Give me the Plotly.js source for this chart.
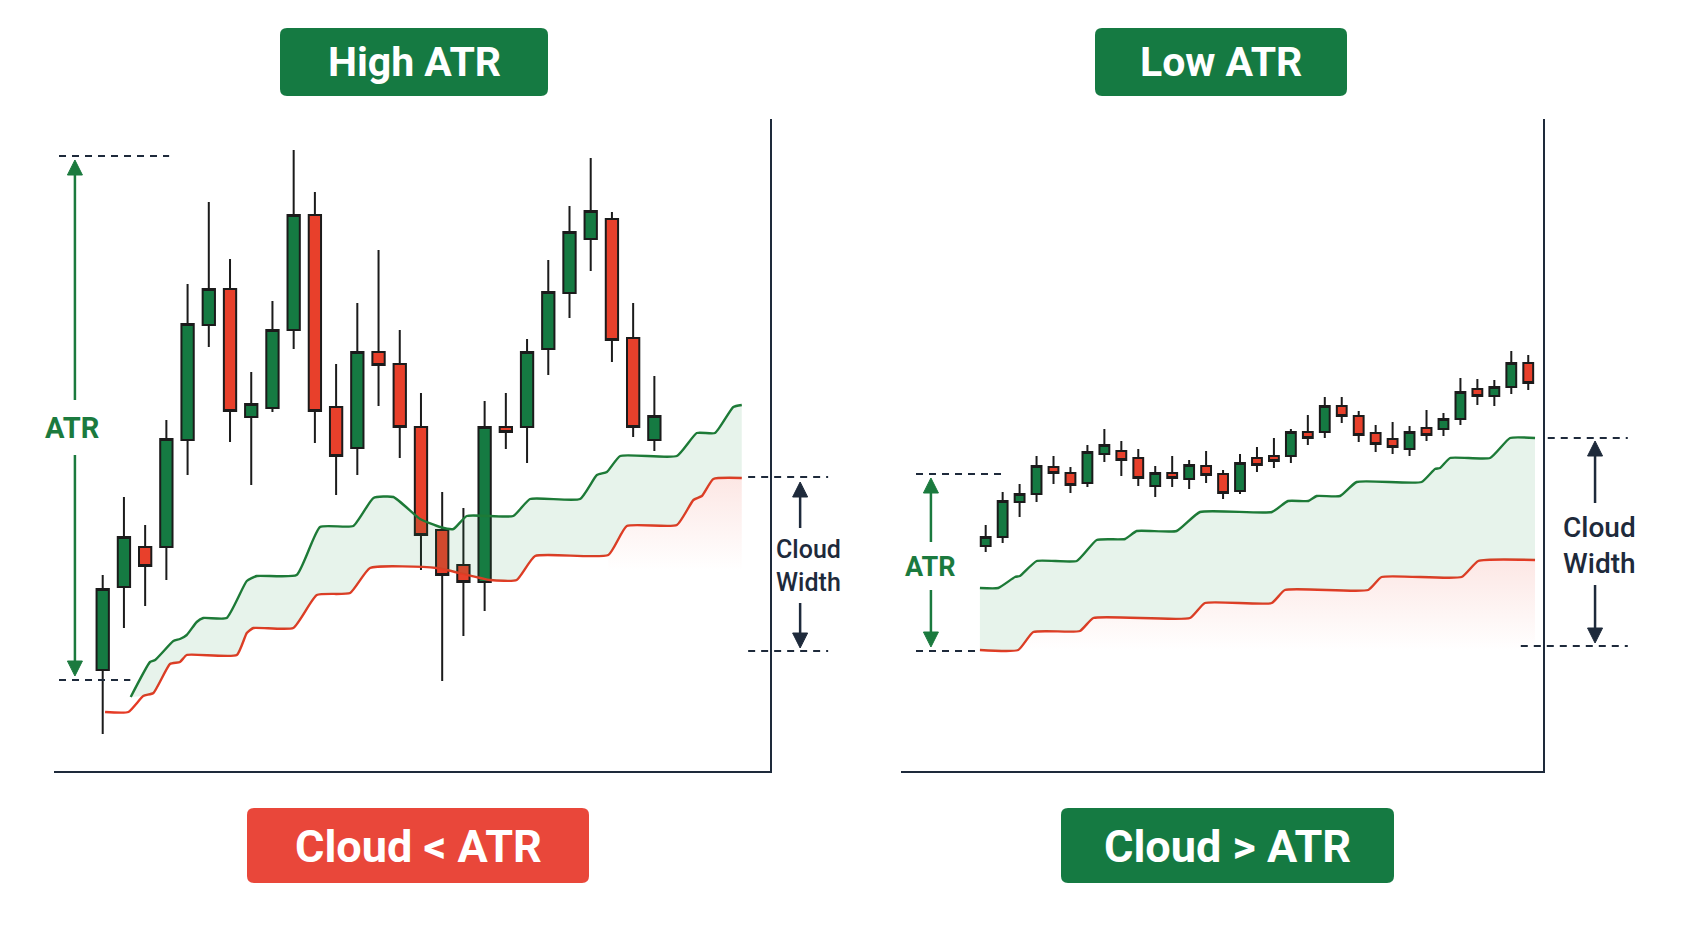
<!DOCTYPE html>
<html><head><meta charset="utf-8">
<script src="https://cdn.plot.ly/plotly-3.0.1.min.js"></script>
<style>html,body{margin:0;padding:0;background:#fff;}#chart{width:1692px;height:930px;}</style>
</head><body><div id="chart"></div>
<script>
// ---------------- DATA: left panel (High ATR) ----------------
const leftIdx   = [1,2,3,4,5,6,7,8,9,10,11,12,13,14,15,16,17,18,19,20,21,22,23,24,25,26,27];
const leftOpen  = [110.1,118.4,122.4,122.4,133.1,144.6,148.2,135.4,136.3,144.1,155.6,136.4,132.3,141.9,140.7,134.4,124.1,120.6,118.9,134.4,134.4,142.2,147.8,153.2,155.2,143.3,133.1];
const leftHigh  = [119.6,127.4,124.6,135.1,148.7,156.9,151.2,139.9,147.0,162.1,157.9,140.7,146.8,152.1,144.1,137.8,127.9,126.3,137.0,137.8,143.2,151.1,156.5,161.3,155.9,146.8,139.5];
const leftLow   = [103.7,114.3,116.5,119.1,129.6,142.4,132.9,128.6,135.9,142.2,132.8,127.6,129.6,136.5,131.3,120.1,109.0,113.5,116.0,132.2,130.8,139.6,145.3,150.0,140.9,133.4,132.0];
const leftClose = [118.2,123.4,120.5,133.2,144.7,148.2,136.0,136.7,144.1,155.6,136.0,131.5,141.9,140.6,134.4,123.6,119.6,118.9,134.4,133.9,141.9,147.9,153.9,156.0,143.1,134.4,135.5];
// cloud lines (upper = green, lower = red)
const leftUpperX = [2.32,3.23,3.47,4.33,4.64,4.96,5.43,5.74,6.84,7.79,8.26,10.14,11.24,12.81,13.76,14.70,15.96,16.90,17.53,18.16,20.35,21.14,23.50,24.29,24.76,25.39,28.06,29.00,29.86,30.72,31.12];
const leftUpper  = [107.4,110.9,111.1,113.0,113.2,113.6,114.9,115.3,115.3,119.0,119.5,119.6,124.4,124.5,127.3,127.4,125.2,124.4,124.2,125.5,125.5,127.2,127.2,129.6,129.9,131.5,131.5,133.8,133.8,136.4,136.6];
const leftLowerX = [1.11,2.21,2.91,3.39,4.17,4.64,4.96,7.32,7.79,8.10,9.98,11.09,12.66,13.60,16.74,19.26,20.51,21.38,24.83,25.70,28.06,28.84,29.24,29.78,31.12];
const leftLower  = [105.9,105.9,107.5,107.8,110.7,110.9,111.6,111.6,113.8,114.3,114.3,117.6,117.8,120.3,120.3,119.1,119.1,121.5,121.6,124.5,124.6,127.1,127.5,129.2,129.3];
// annotation levels (price units)
const leftAtrTop = 161.5, leftAtrBottom = 109.1;
const leftCloudTop = 129.4, leftCloudBottom = 112.0;
const leftFadeFrom = 24.8, leftFadeFloor = 120.0;

// ---------------- DATA: right panel (Low ATR) ----------------
const rightIdx   = [1,2,3,4,5,6,7,8,9,10,11,12,13,14,15,16,17,18,19,20,21,22,23,24,25,26,27,28,29,30,31,32,33];
const rightOpen  = [222.5,223.4,226.9,227.7,230.4,229.8,228.8,231.7,232.0,231.3,228.5,229.8,229.2,230.5,229.7,228.0,231.3,231.5,231.5,233.9,233.9,236.5,235.5,233.8,233.2,232.2,234.3,234.2,235.2,238.2,237.5,238.4,240.8];
const rightHigh  = [224.6,227.9,228.7,231.5,231.5,230.4,232.6,234.2,233.0,232.2,230.5,231.5,231.1,232.0,230.1,231.7,232.4,233.3,234.2,235.6,237.4,237.4,236.0,234.6,234.9,234.5,236.1,235.8,239.3,239.2,239.1,242.0,241.6];
const rightLow   = [221.9,222.8,225.4,226.9,228.7,227.8,228.4,230.9,229.5,228.5,227.4,228.4,228.2,228.8,227.2,227.7,229.9,230.3,230.8,232.6,233.3,234.8,232.9,231.9,231.7,231.5,233.0,233.5,234.6,236.6,236.5,237.7,238.1];
const rightClose = [223.4,227.0,227.7,230.5,229.8,228.6,231.9,232.6,231.1,229.3,229.8,229.3,230.6,229.6,227.8,230.8,230.6,231.0,233.9,233.3,236.5,235.5,233.6,232.7,232.4,233.9,233.6,235.2,237.9,237.5,238.4,240.8,238.8];
const rightUpperX = [0.66,1.74,2.73,3.02,4.01,6.37,7.55,9.22,9.91,12.26,13.64,17.88,18.83,20.03,20.52,21.90,22.88,26.71,27.50,27.80,28.39,30.75,31.93,33.40];
const rightUpper  = [218.3,218.3,219.4,219.5,221.0,221.0,223.1,223.2,224.0,224.0,225.9,225.9,227.0,227.0,227.5,227.5,228.9,228.9,230.2,230.3,231.3,231.3,233.3,233.3];
const rightLowerX = [0.66,2.92,3.81,6.56,7.35,13.05,13.93,17.87,18.65,23.56,24.35,29.07,30.05,33.40];
const rightLower  = [212.1,212.1,213.9,214.0,215.3,215.3,216.8,216.8,218.1,218.1,219.4,219.4,221.0,221.1];
const rightAtrTop = 229.7, rightAtrBottom = 212.0;
const rightCloudTop = 233.3, rightCloudBottom = 212.5;
const rightFadeFrom = 0.66, rightFadeFloor = 212.1;

// ---------------- LABELS ----------------
const titleLeft = 'High ATR', titleRight = 'Low ATR';
const footLeft = 'Cloud < ATR', footRight = 'Cloud > ATR';
const atrLabel = 'ATR', cloudLabel = 'Cloud<br>Width';

// ---------------- STYLE / GEOMETRY ----------------
const W = 1692, H = 930;
const GREEN = '#157a42', RED = '#e8402b', LINE_G = '#1d7a37', LINE_R = '#e53a24', NAVY = '#1e2a3b', INK = '#1b1b1b';
const panels = {
  L: {xd: [54/W, 770/W], yd: [1-771/H, 1-119/H], xr: [-1.296, 32.45], yr: [100, 165.2]},
  R: {xd: [901/W, 1543/W], yd: [1-771/H, 1-119/H], xr: [-3.995, 33.87], yr: [200, 265.2]}
};
function xPx(p, v){const P = panels[p]; return (P.xd[0] + (v-P.xr[0])/(P.xr[1]-P.xr[0])*(P.xd[1]-P.xd[0]))*W;}
function yPx(p, v){const P = panels[p]; return (1 - (P.yd[0] + (v-P.yr[0])/(P.yr[1]-P.yr[0])*(P.yd[1]-P.yd[0])))*H;}
const pxX = x => x/W, pxY = y => 1 - y/H;

const shapes = [];
const annotations = [];
function dashed(x0, x1, y){
  shapes.push({type:'line', xref:'paper', yref:'paper', x0:pxX(x0), x1:pxX(x1), y0:pxY(y), y1:pxY(y),
    line:{color:NAVY, width:2, dash:'7px,6px'}, layer:'above'});
}
function seg(x, y0, y1, color, w){
  shapes.push({type:'line', xref:'paper', yref:'paper', x0:pxX(x), x1:pxX(x), y0:pxY(y0), y1:pxY(y1),
    line:{color:color, width:w}, layer:'above'});
}
function head(x, yTip, dir, color){ // dir -1 = pointing up, +1 = pointing down
  const L = 15, hw = 7.5;
  const yb = yTip - dir*L;
  const path = `M ${pxX(x)},${pxY(yTip)} L ${pxX(x-hw)},${pxY(yb)} L ${pxX(x+hw)},${pxY(yb)} Z`;
  shapes.push({type:'path', xref:'paper', yref:'paper', path:path, fillcolor:color, line:{color:color, width:1}, layer:'above'});
}
function dblArrow(x, yTop, yGapTop, yGapBot, yBot, color, w){
  seg(x, yTop + 8, yGapTop, color, w);
  seg(x, yGapBot, yBot - 8, color, w);
  head(x, yTop, -1, color);
  head(x, yBot, 1, color);
}
function roundRect(x0, y0, x1, y1, r, color){
  const P = (x, y) => `${pxX(x)},${pxY(y)}`;
  const path = `M ${P(x0+r,y0)} L ${P(x1-r,y0)} Q ${P(x1,y0)} ${P(x1,y0+r)} L ${P(x1,y1-r)} Q ${P(x1,y1)} ${P(x1-r,y1)} ` +
               `L ${P(x0+r,y1)} Q ${P(x0,y1)} ${P(x0,y1-r)} L ${P(x0,y0+r)} Q ${P(x0,y0)} ${P(x0+r,y0)} Z`;
  shapes.push({type:'path', xref:'paper', yref:'paper', path:path, fillcolor:color, line:{width:0}, layer:'above'});
}
function label(text, x, y, size, color, weight){
  annotations.push({text:text, xref:'paper', yref:'paper', x:pxX(x), y:pxY(y), xanchor:'center', yanchor:'middle',
    showarrow:false, font:{family:'Roboto, "Liberation Sans", sans-serif', size:size, color:color, weight:weight}});
}

// ----- left annotations -----
{
  const p = 'L';
  const top = yPx(p, leftAtrTop), bot = yPx(p, leftAtrBottom);
  dashed(xPx(p,-1.06), xPx(p,4.13), top);
  dashed(xPx(p,-1.06), xPx(p,2.30), bot);
  const ax = xPx(p,-0.31);
  dblArrow(ax, top+4, 400, 455, bot-4, '#1b7a3e', 2.5);
  label(atrLabel, ax-3, 428, 29, '#1b7a3e', 'bold');
  const ct = yPx(p, leftCloudTop), cb = yPx(p, leftCloudBottom);
  dashed(xPx(p,31.42), xPx(p,35.19), ct);
  dashed(xPx(p,31.42), xPx(p,35.19), cb);
  const cx = xPx(p,33.87);
  dblArrow(cx, ct+5, 528, 603, cb-3, NAVY, 2.5);
  label(cloudLabel, cx+8, 566, 25, NAVY, 500);
}
// ----- right annotations -----
{
  const p = 'R';
  const top = yPx(p, rightAtrTop), bot = yPx(p, rightAtrBottom);
  dashed(xPx(p,-3.11), xPx(p,2.14), top);
  dashed(xPx(p,-3.11), xPx(p,0.66), bot);
  const ax = xPx(p,-2.23);
  dblArrow(ax, top+4, 542, 590, bot-4, '#1b7a3e', 2.5);
  label(atrLabel, ax, 567, 27, '#1b7a3e', 'bold');
  const ct = yPx(p, rightCloudTop), cb = yPx(p, rightCloudBottom);
  dashed(xPx(p,34.15), xPx(p,38.87), ct);
  dashed(xPx(p,32.56), xPx(p,38.87), cb);
  const cx = xPx(p,36.94);
  dblArrow(cx, ct+3, 503, 585, cb-3, NAVY, 2.5);
  label(cloudLabel, cx+4, 545, 28, NAVY, 500);
}
// ----- title / footer boxes -----
roundRect(280, 28, 548, 96, 7, GREEN);   label(titleLeft, 414, 62, 41, '#ffffff', 'bold');
roundRect(1095, 28, 1347, 96, 7, GREEN); label(titleRight, 1221, 62, 41, '#ffffff', 'bold');
roundRect(247, 808, 589, 883, 7, '#e9473a'); label(footLeft, 418, 846, 45, '#ffffff', 'bold');
roundRect(1061, 808, 1394, 883, 7, GREEN);   label(footRight, 1227, 846, 45, '#ffffff', 'bold');

// ---------------- TRACES ----------------
function panelTraces(xa, ya, idx, o, h, l, c, ux, u, lx, lo, fadeFrom, fadeFloor){
  const fx = [], fy = [];
  lx.forEach((x, i) => { if (x >= fadeFrom) { fx.push(x); fy.push(lo[i]); } });
  // lower line restricted to where the upper line exists (for the cloud fill)
  const cx = [], cy = [];
  lx.forEach((x, i) => { if (x >= ux[0]) { cx.push(x); cy.push(lo[i]); } });
  const base = {xaxis:xa, yaxis:ya, mode:'lines', hoverinfo:'skip', showlegend:false};
  const sp = {shape:'spline', smoothing:0.45};
  return [
    Object.assign({}, base, {x:[fx[0], fx[fx.length-1]], y:[fadeFloor, fadeFloor], line:{width:0}}),
    Object.assign({}, base, {x:fx, y:fy, line:Object.assign({width:0}, sp), fill:'tonexty',
      fillgradient:{type:'vertical', colorscale:[[0,'rgba(235,70,50,0)'],[1,'rgba(235,70,50,0.13)']]}}),
    Object.assign({}, base, {x:lx, y:lo, line:Object.assign({color:LINE_R, width:2.4}, sp)}),
    Object.assign({}, base, {x:cx, y:cy, line:Object.assign({width:0}, sp)}),
    Object.assign({}, base, {x:ux, y:u, line:Object.assign({color:LINE_G, width:2.4}, sp),
      fill:'tonexty', fillcolor:'rgba(40,150,70,0.11)'}),
    {type:'candlestick', xaxis:xa, yaxis:ya, x:idx, open:o, high:h, low:l, close:c, showlegend:false,
      whiskerwidth:0,
      increasing:{line:{color:INK, width:2}, fillcolor:GREEN},
      decreasing:{line:{color:INK, width:2}, fillcolor:RED}}
  ];
}
const data = [].concat(
  panelTraces('x','y', leftIdx, leftOpen, leftHigh, leftLow, leftClose, leftUpperX, leftUpper, leftLowerX, leftLower, leftFadeFrom, leftFadeFloor),
  panelTraces('x2','y2', rightIdx, rightOpen, rightHigh, rightLow, rightClose, rightUpperX, rightUpper, rightLowerX, rightLower, rightFadeFrom, rightFadeFloor)
);

function xAxis(P, anchor){
  return {domain:P.xd, range:P.xr, anchor:anchor, showline:true, linecolor:NAVY, linewidth:2, showgrid:false,
    zeroline:false, showticklabels:false, ticks:'', rangeslider:{visible:false}, fixedrange:true};
}
function yAxis(P, anchor){
  return {domain:P.yd, range:P.yr, anchor:anchor, side:'right', showline:true, linecolor:NAVY, linewidth:2,
    showgrid:false, zeroline:false, showticklabels:false, ticks:'', fixedrange:true};
}
const layout = {
  width:W, height:H, autosize:false, margin:{l:0, r:0, t:0, b:0},
  paper_bgcolor:'#ffffff', plot_bgcolor:'rgba(0,0,0,0)', showlegend:false, boxgap:0.42, boxgroupgap:0, hovermode:false,
  xaxis:xAxis(panels.L,'y'), yaxis:yAxis(panels.L,'x'),
  xaxis2:xAxis(panels.R,'y2'), yaxis2:yAxis(panels.R,'x2'),
  shapes:shapes, annotations:annotations
};
Plotly.newPlot('chart', data, layout, {displayModeBar:false, staticPlot:true});
</script></body></html>
